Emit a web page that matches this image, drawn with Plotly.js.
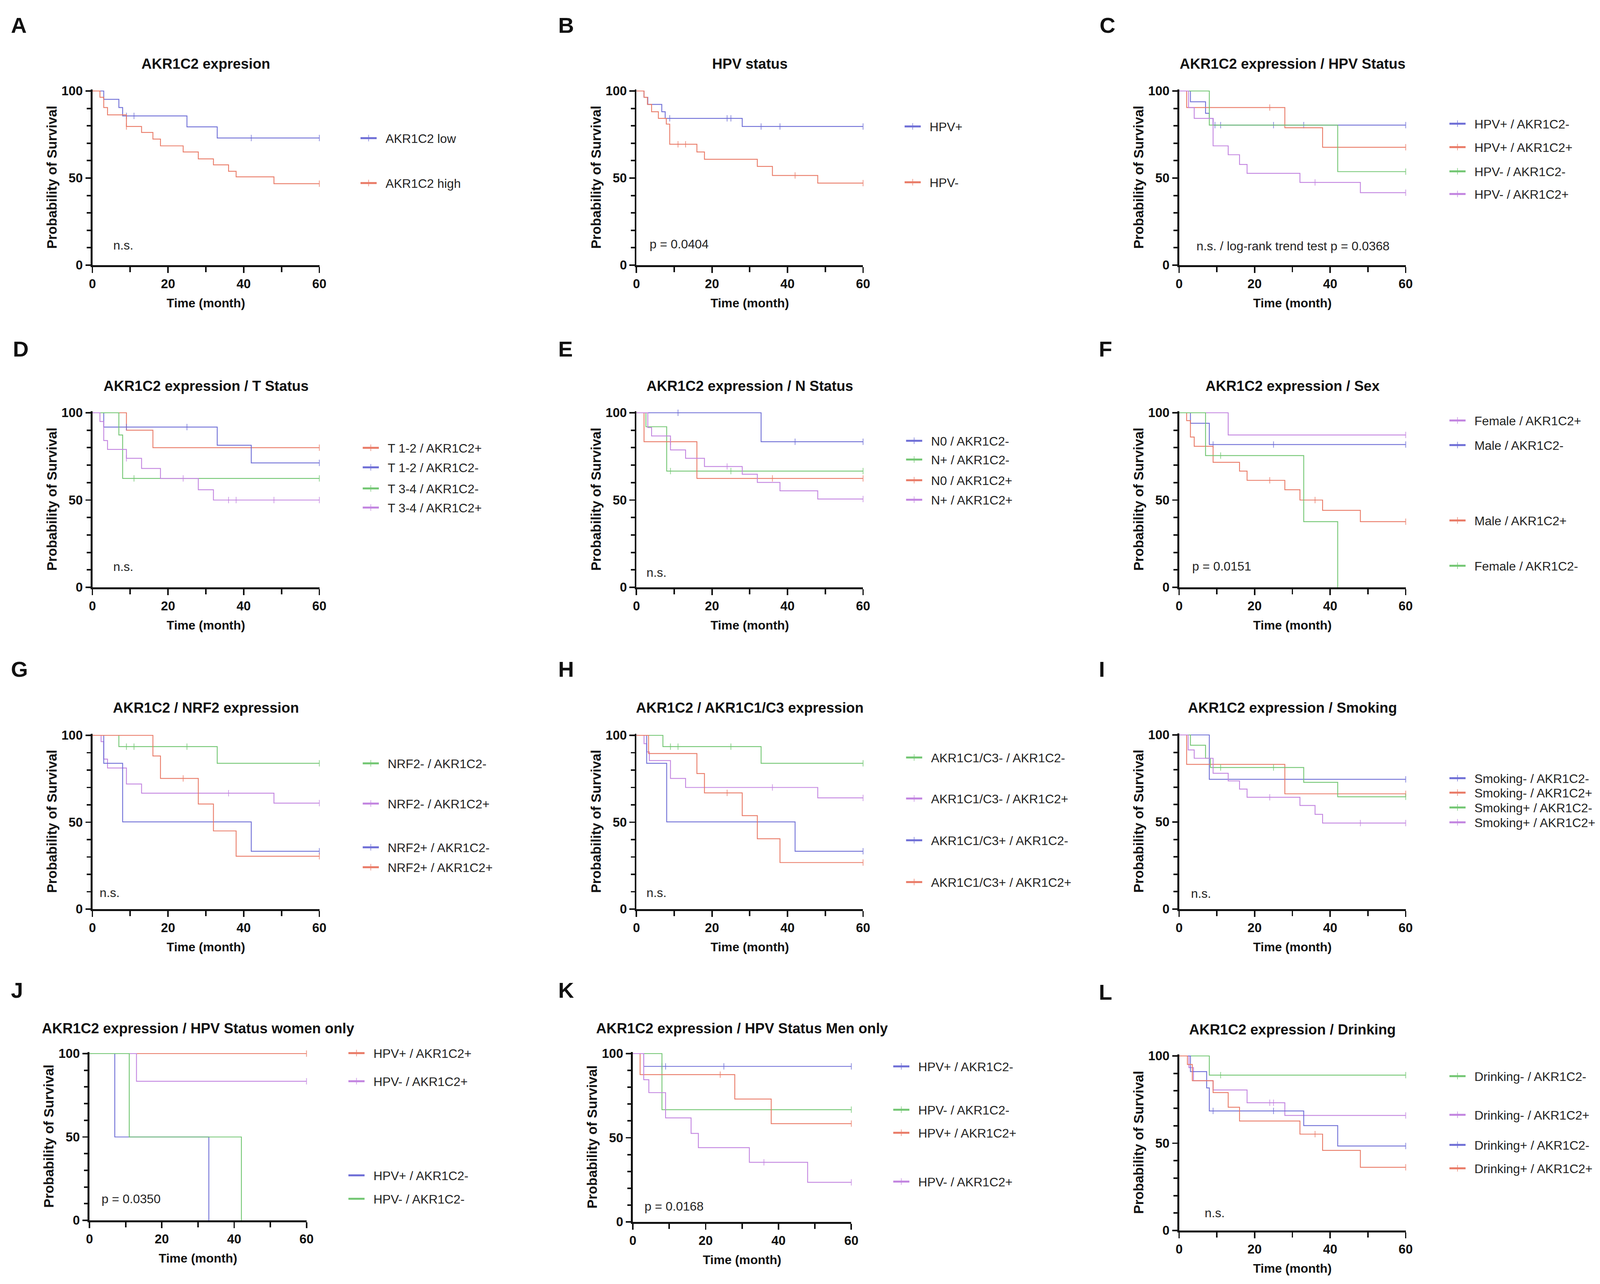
<!DOCTYPE html>
<html><head><meta charset="utf-8">
<script src="https://cdn.plot.ly/plotly-3.0.1.min.js"></script>
<style>html,body{margin:0;padding:0;background:#fff;overflow:hidden}</style>
</head><body><div id="chart"></div>
<script>
// ---------------- DATA (time in months, survival in %, censor times) ----------------
// A
const aLowT = [3, 7, 8, 25, 33];
const aLowS = [95.2, 90.5, 85.7, 79.4, 73.0];
const aLowC = [9, 11, 42, 60];
const aHighT = [2, 3, 4, 9, 13, 16, 18, 24, 28, 32, 36, 38, 48];
const aHighS = [96.4, 90.5, 86.3, 79.6, 76.2, 72.4, 68.5, 65.0, 61.0, 57.6, 53.9, 50.7, 46.8];
const aHighC = [9, 60];
// B
const bPosT = [2, 3, 6.7, 7.6, 28];
const bPosS = [96.4, 92.3, 88.1, 84.3, 79.6];
const bPosC = [8.8, 24, 25, 33, 38, 60];
const bNegT = [2, 2.9, 4, 5.8, 7.9, 8.8, 16, 18, 32, 36, 48];
const bNegS = [96.4, 92.3, 88.1, 84.3, 81.0, 69.4, 65.0, 60.8, 56.7, 51.5, 47.1];
const bNegC = [11, 13, 42, 60];
// C
const cPmT = [3, 7, 8, 9];
const cPmS = [93.8, 87.2, 84.3, 80.4];
const cPmC = [9.5, 11, 25, 33, 60];
const cPpT = [2, 28, 38];
const cPpS = [90.5, 78.9, 67.7];
const cPpC = [24, 60];
const cNmT = [8, 42];
const cNmS = [80.4, 53.7];
const cNmC = [60];
const cNpT = [2.5, 4, 9, 13, 16, 18, 32, 48];
const cNpS = [90.5, 84.3, 68.5, 63.4, 57.8, 52.7, 47.5, 41.6];
const cNpC = [36, 60];
// D
const dRpT = [9, 16];
const dRpS = [90, 80];
const dRpC = [60];
const dBmT = [3, 33, 42];
const dBmS = [91.8, 81.4, 71.3];
const dBmC = [9, 25, 60];
const dGmT = [7, 8];
const dGmS = [87.3, 62.4];
const dGmC = [11, 60];
const dPpT = [2, 3, 4, 9, 13, 18, 28, 32];
const dPpS = [95, 84.1, 79, 73.9, 68.1, 62.4, 55.9, 50];
const dPpC = [9, 24, 36, 38, 48, 60];
// E
const eBmT = [33];
const eBmS = [83.4];
const eBmC = [11, 42, 60];
const eGmT = [2.5, 8];
const eGmS = [92, 66.6];
const eGmC = [9, 25, 60];
const eRpT = [2, 16];
const eRpS = [83.4, 62.4];
const eRpC = [9, 36, 60];
const ePpT = [3, 4, 9, 13, 18, 28, 32, 38, 48];
const ePpS = [91.5, 86.7, 78.7, 73.9, 69.2, 64.8, 60.1, 55.3, 50.6];
const ePpC = [24, 60];
// F
const fPpT = [13];
const fPpS = [87.3];
const fPpC = [60];
const fBmT = [3, 8];
const fBmS = [94, 81.8];
const fBmC = [9, 25, 60];
const fRpT = [2, 3, 4, 9, 16, 18, 28, 32, 38, 48];
const fRpS = [95.5, 86.1, 80.8, 71.6, 66.6, 61.3, 55.9, 50, 44.1, 37.6];
const fRpC = [24, 36, 60];
const fGmT = [7, 33, 42];
const fGmS = [75.5, 37.6, 0];
const fGmC = [11];
// G
const gGmT = [7, 33];
const gGmS = [93.5, 83.9];
const gGmC = [9, 11, 25, 60];
const gPpT = [2.3, 3, 4, 9, 13, 48];
const gPpS = [96.4, 86.3, 81.2, 72, 66.7, 61];
const gPpC = [36, 60];
const gBmT = [3, 8, 42];
const gBmS = [83.9, 50.2, 33.3];
const gBmC = [60];
const gRpT = [16, 18, 28, 32, 38];
const gRpS = [88.1, 75.2, 60.5, 45, 30.4];
const gRpC = [24, 60];
// H
const hGmT = [7, 33];
const hGmS = [93.5, 83.9];
const hGmC = [9, 11, 25, 60];
const hPpT = [2, 2.7, 3.4, 9, 13, 48];
const hPpS = [95.2, 90.5, 85.5, 75.2, 70, 64];
const hPpC = [36, 60];
const hBmT = [2.7, 8, 42];
const hBmS = [83.9, 50.2, 33.3];
const hBmC = [60];
const hRpT = [3.2, 16, 18, 28, 32, 38];
const hRpS = [89.5, 78, 66.9, 53.8, 40.5, 26.8];
const hRpC = [24, 60];
// I
const iBmT = [8];
const iBmS = [74.5];
const iBmC = [60];
const iRpT = [2, 28];
const iRpS = [83.1, 66.2];
const iRpC = [60];
const iGmT = [3, 7, 8.3, 33, 42];
const iGmS = [94.1, 86.6, 81.3, 72.8, 64.5];
const iGmC = [11, 25, 60];
const iPpT = [2.4, 4, 9, 13, 16, 18, 32, 36, 38];
const iPpS = [91.4, 86.6, 78, 73.6, 68.9, 64.2, 59.5, 54.4, 49.4];
const iPpC = [24, 48, 60];
// J
const jRpT = [];
const jRpS = [];
const jRpC = [60];
const jPpT = [13];
const jPpS = [83.4];
const jPpC = [60];
const jBmT = [7, 33];
const jBmS = [50, 0];
const jBmC = [];
const jGmT = [11, 42];
const jGmS = [50, 0];
const jGmC = [];
// K
const kBmT = [3];
const kBmS = [92.4];
const kBmC = [8, 9, 25, 60];
const kGmT = [8];
const kGmS = [66.7];
const kGmC = [60];
const kRpT = [2, 28, 38];
const kRpS = [87.5, 73, 58.4];
const kRpC = [24, 60];
const kPpT = [3, 4.4, 9, 16, 18, 32, 48];
const kPpS = [84.5, 76.8, 61.8, 52.6, 44.1, 35.4, 23.5];
const kPpC = [36, 60];
// L
const lGmT = [8];
const lGmS = [89];
const lGmC = [11, 60];
const lPpT = [2.6, 3.8, 9, 18, 28];
const lPpS = [93.3, 85.8, 80.5, 73.2, 65.9];
const lPpC = [24, 25, 60];
const lBmT = [3, 7.3, 8, 33, 42];
const lBmS = [91, 81.7, 68.5, 60.1, 48.4];
const lBmC = [9, 25, 60];
const lRpT = [2.2, 3.5, 9, 13, 16, 32, 38, 48];
const lRpS = [95.1, 85.8, 79, 70.6, 62.7, 55.2, 45.9, 36.2];
const lRpC = [36, 60];

// Panel texts
const panelLetters = ['A','B','C','D','E','F','G','H','I','J','K','L'];
const panelTitles = ['AKR1C2 expresion','HPV status','AKR1C2 expression / HPV Status',
  'AKR1C2 expression / T Status','AKR1C2 expression / N Status','AKR1C2 expression / Sex',
  'AKR1C2 / NRF2 expression','AKR1C2 / AKR1C1/C3 expression','AKR1C2 expression / Smoking',
  'AKR1C2 expression / HPV Status women only','AKR1C2 expression / HPV Status Men only','AKR1C2 expression / Drinking'];
const panelStats = ['n.s.','p = 0.0404','n.s. / log-rank trend test p = 0.0368',
  'n.s.','n.s.','p = 0.0151','n.s.','n.s.','n.s.','p = 0.0350','p = 0.0168','n.s.'];
const xTickVals = [0, 20, 40, 60];
const yTickVals = [0, 50, 100];

// ---------------- STYLE / LAYOUT ----------------
const BLUE = '#6e6ed6', RED = '#e97a66', GREEN = '#72c672', PURPLE = '#c284e0';
const FONT = 'Liberation Sans, Arial, Helvetica, sans-serif';
const W = 4364, H = 3288;                       // reference picture size
const VW = document.documentElement.clientWidth || window.innerWidth || W;
const VH = document.documentElement.clientHeight || window.innerHeight || H;
const SX = VW / W, SY = VH / H;
const S = Math.min(1, (SX + SY) / 2 * 0.995);   // font / stroke scale
const chartDiv = document.getElementById('chart');
chartDiv.style.width = VW + 'px';
chartDiv.style.height = VH + 'px';

const curves = [
  [['AKR1C2 low', aLowT, aLowS, aLowC, BLUE], ['AKR1C2 high', aHighT, aHighS, aHighC, RED]],
  [['HPV+', bPosT, bPosS, bPosC, BLUE], ['HPV-', bNegT, bNegS, bNegC, RED]],
  [['HPV+ / AKR1C2-', cPmT, cPmS, cPmC, BLUE], ['HPV+ / AKR1C2+', cPpT, cPpS, cPpC, RED],
   ['HPV- / AKR1C2-', cNmT, cNmS, cNmC, GREEN], ['HPV- / AKR1C2+', cNpT, cNpS, cNpC, PURPLE]],
  [['T 1-2 / AKR1C2+', dRpT, dRpS, dRpC, RED], ['T 1-2 / AKR1C2-', dBmT, dBmS, dBmC, BLUE],
   ['T 3-4 / AKR1C2-', dGmT, dGmS, dGmC, GREEN], ['T 3-4 / AKR1C2+', dPpT, dPpS, dPpC, PURPLE]],
  [['N0 / AKR1C2-', eBmT, eBmS, eBmC, BLUE], ['N+ / AKR1C2-', eGmT, eGmS, eGmC, GREEN],
   ['N0 / AKR1C2+', eRpT, eRpS, eRpC, RED], ['N+ / AKR1C2+', ePpT, ePpS, ePpC, PURPLE]],
  [['Female / AKR1C2+', fPpT, fPpS, fPpC, PURPLE], ['Male / AKR1C2-', fBmT, fBmS, fBmC, BLUE],
   ['Male / AKR1C2+', fRpT, fRpS, fRpC, RED], ['Female / AKR1C2-', fGmT, fGmS, fGmC, GREEN]],
  [['NRF2- / AKR1C2-', gGmT, gGmS, gGmC, GREEN], ['NRF2- / AKR1C2+', gPpT, gPpS, gPpC, PURPLE],
   ['NRF2+ / AKR1C2-', gBmT, gBmS, gBmC, BLUE], ['NRF2+ / AKR1C2+', gRpT, gRpS, gRpC, RED]],
  [['AKR1C1/C3- / AKR1C2-', hGmT, hGmS, hGmC, GREEN], ['AKR1C1/C3- / AKR1C2+', hPpT, hPpS, hPpC, PURPLE],
   ['AKR1C1/C3+ / AKR1C2-', hBmT, hBmS, hBmC, BLUE], ['AKR1C1/C3+ / AKR1C2+', hRpT, hRpS, hRpC, RED]],
  [['Smoking- / AKR1C2-', iBmT, iBmS, iBmC, BLUE], ['Smoking- / AKR1C2+', iRpT, iRpS, iRpC, RED],
   ['Smoking+ / AKR1C2-', iGmT, iGmS, iGmC, GREEN], ['Smoking+ / AKR1C2+', iPpT, iPpS, iPpC, PURPLE]],
  [['HPV+ / AKR1C2+', jRpT, jRpS, jRpC, RED], ['HPV- / AKR1C2+', jPpT, jPpS, jPpC, PURPLE],
   ['HPV+ / AKR1C2-', jBmT, jBmS, jBmC, BLUE], ['HPV- / AKR1C2-', jGmT, jGmS, jGmC, GREEN]],
  [['HPV+ / AKR1C2-', kBmT, kBmS, kBmC, BLUE], ['HPV- / AKR1C2-', kGmT, kGmS, kGmC, GREEN],
   ['HPV+ / AKR1C2+', kRpT, kRpS, kRpC, RED], ['HPV- / AKR1C2+', kPpT, kPpS, kPpC, PURPLE]],
  [['Drinking- / AKR1C2-', lGmT, lGmS, lGmC, GREEN], ['Drinking- / AKR1C2+', lPpT, lPpS, lPpC, PURPLE],
   ['Drinking+ / AKR1C2-', lBmT, lBmS, lBmC, BLUE], ['Drinking+ / AKR1C2+', lRpT, lRpS, lRpC, RED]]
];

// geometry in reference pixels: [x0, x60, y0, y100, letterX, letterY, titleY, statX, statY, legendLineX, legendYs]
const geom = [
  [252, 871, 679, 233, 28, 65, 164, 307, 628, 983, [354, 469]],
  [1736, 2354, 679, 233, 1520, 65, 164, 1770, 625, 2467, [324, 467]],
  [3216, 3834, 679, 233, 2997, 65, 164, 3261, 630, 3953, [317, 377, 439, 497]],
  [252, 871, 1504, 1057, 33, 894, 988, 307, 1451, 989, [1147, 1197, 1251, 1300]],
  [1736, 2354, 1504, 1057, 1520, 894, 988, 1761, 1466, 2471, [1129, 1177, 1230, 1280]],
  [3216, 3834, 1504, 1057, 2995, 894, 988, 3250, 1450, 3953, [1077, 1140, 1333, 1449]],
  [252, 871, 2328, 1883, 28, 1714, 1812, 270, 2286, 989, [1955, 2058, 2170, 2221]],
  [1736, 2354, 2328, 1883, 1520, 1714, 1812, 1761, 2286, 2471, [1940, 2045, 2152, 2259]],
  [3216, 3834, 2328, 1882, 2995, 1714, 1812, 3246, 2288, 3953, [1993, 2030, 2068, 2106]],
  [244, 836, 3125, 2698, 28, 2535, 2633, 275, 3070, 950, [2697, 2769, 3010, 3070]],
  [1726, 2322, 3129, 2698, 1520, 2535, 2633, 1756, 3089, 2436, [2731, 2842, 2901, 3026]],
  [3216, 3834, 3151, 2704, 2995, 2540, 2636, 3284, 3106, 3953, [2756, 2855, 2932, 2992]]
];

function survAt(t, s, c) {
  let v = 100;
  for (let i = 0; i < t.length; i++) if (t[i] <= c) v = s[i];
  return v;
}

const traces = [];
const layout = {
  width: VW, height: VH, autosize: false,
  margin: {l: 0, r: 0, t: 0, b: 0},
  paper_bgcolor: '#fff', plot_bgcolor: 'rgba(0,0,0,0)',
  font: {family: FONT, color: '#111'},
  annotations: []
};
let legendCount = 0;
const GAP = '\u00a0\u00a0';

curves.forEach((list, p) => {
  const g = geom[p];
  const id = p === 0 ? '' : String(p + 1);
  const xa = 'x' + id, ya = 'y' + id;
  const y101 = g[3] - (g[2] - g[3]) * 0.01;
  const axisCommon = {
    showline: true, linecolor: '#111', linewidth: 5 * S, mirror: false,
    ticks: 'outside', tickwidth: 4 * S, tickcolor: '#111',
    tickfont: {family: FONT, size: 34 * S, color: '#111', weight: 'bold'},
    showgrid: false, zeroline: false, fixedrange: true, automargin: false
  };
  layout['xaxis' + id] = Object.assign({}, axisCommon, {
    domain: [g[0] / W, g[1] / W], range: [0, 60], anchor: ya, ticklen: 15 * SY,
    tickmode: 'array', tickvals: xTickVals, ticktext: xTickVals.map(String),
    minor: {tickmode: 'linear', tick0: 0, dtick: 10, ticks: 'outside', ticklen: 13 * SY, tickwidth: 4 * S, tickcolor: '#111'},
    title: {text: 'Time (month)', font: {family: FONT, size: 33 * S, color: '#111', weight: 'bold'}, standoff: 22 * SY}
  });
  layout['yaxis' + id] = Object.assign({}, axisCommon, {
    domain: [1 - g[2] / H, 1 - y101 / H], range: [0, 101], anchor: xa, ticklen: 14 * SX,
    tickmode: 'array', tickvals: yTickVals, ticktext: yTickVals.map(String),
    minor: {tickmode: 'linear', tick0: 0, dtick: 10, ticks: 'outside', ticklen: 10 * SX, tickwidth: 4 * S, tickcolor: '#111'},
    title: {text: 'Probability of Survival', font: {family: FONT, size: 36 * S, color: '#111', weight: 'bold'}, standoff: 3 * SX}
  });

  list.forEach((cv, k) => {
    const [name, t, s, c, color] = cv;
    const pts = [{x: 0, y: 100, cen: 0}];
    t.forEach((ti, i) => pts.push({x: ti, y: s[i], cen: 0}));
    c.forEach(ci => pts.push({x: ci, y: survAt(t, s, ci), cen: 1}));
    pts.sort((a, b) => (a.x - b.x) || (a.cen - b.cen));
    legendCount++;
    const lid = legendCount === 1 ? 'legend' : 'legend' + legendCount;
    traces.push({
      type: 'scatter', mode: 'lines+markers', name: GAP + name,
      x: pts.map(q => q.x), y: pts.map(q => q.y),
      xaxis: xa, yaxis: ya, cliponaxis: false,
      line: {shape: 'hv', color: color, width: 2.3 * S},
      marker: {symbol: 'line-ns-open', size: pts.map(q => q.cen ? 12 * S : 0), color: color,
               line: {color: color, width: 2.3 * S}},
      legend: lid, showlegend: true, hoverinfo: 'skip'
    });
    layout[lid] = {
      x: (g[9] - 5) / W, y: 1 - g[10][k] / H, xanchor: 'left', yanchor: 'middle',
      xref: 'paper', yref: 'paper', bgcolor: 'rgba(0,0,0,0)', borderwidth: 0,
      font: {family: FONT, size: 33 * S, color: '#222'}, itemwidth: Math.max(30, 44 * SX), itemsizing: 'constant',
      itemclick: false, itemdoubleclick: false
    };
  });

  layout.annotations.push({xref: 'paper', yref: 'paper', x: g[4] / W, y: 1 - g[5] / H,
    xanchor: 'left', yanchor: 'middle', showarrow: false,
    text: '<b>' + panelLetters[p] + '</b>', font: {family: FONT, size: 58 * S, color: '#111'}});
  layout.annotations.push({xref: 'paper', yref: 'paper', x: (g[0] + g[1]) / 2 / W, y: 1 - g[6] / H,
    xanchor: 'center', yanchor: 'middle', showarrow: false,
    text: '<b>' + panelTitles[p] + '</b>', font: {family: FONT, size: 38 * S, color: '#111'}});
  layout.annotations.push({xref: 'paper', yref: 'paper', x: g[7] / W, y: 1 - g[8] / H,
    xanchor: 'left', yanchor: 'middle', showarrow: false,
    text: panelStats[p], font: {family: FONT, size: 33 * S, color: '#222'}});
});

Plotly.newPlot('chart', traces, layout, {staticPlot: true, displayModeBar: false});
</script></body></html>
